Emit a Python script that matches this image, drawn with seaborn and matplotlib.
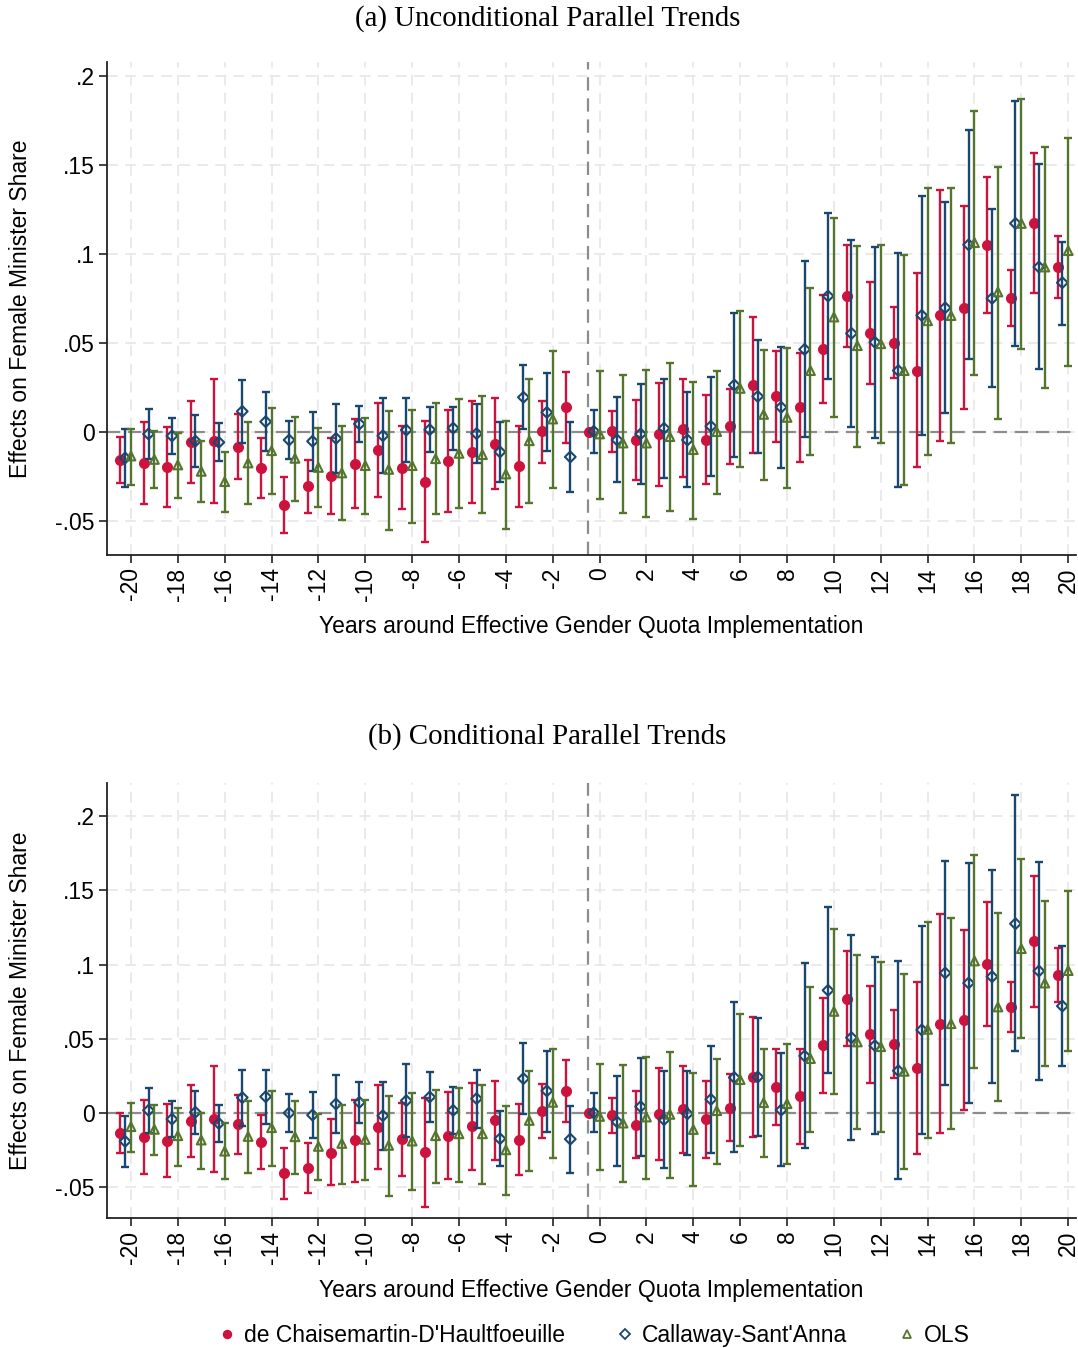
import numpy as np
import matplotlib
matplotlib.use("Agg")
import matplotlib.pyplot as plt
import seaborn as sns
from matplotlib.lines import Line2D

years = list(range(-20, 21))
nan = np.nan

# ---- (a) unconditional parallel trends ----
a_dcdh_est = [-0.0157, -0.0176, -0.0199, -0.0054, -0.0049, -0.0082, -0.0200, -0.0412, -0.0305, -0.0245,
              -0.0178, -0.0103, -0.0200, -0.0279, -0.0161, -0.0110, -0.0066, -0.0193, 0.0004, 0.0139,
              0.0, 0.0004, -0.0047, -0.0011, 0.0019, -0.0043, 0.0032, 0.0266, 0.0200, 0.0139,
              0.0466, 0.0764, 0.0554, 0.0502, 0.0345, 0.0655, 0.0698, 0.1052, 0.0753, 0.1172, 0.0927]
a_dcdh_lo = [-0.0288, -0.0406, -0.0423, -0.0285, -0.0399, -0.0266, -0.0369, -0.0569, -0.0455, -0.0459,
             -0.0427, -0.0367, -0.0433, -0.0620, -0.0448, -0.0400, -0.0318, -0.0419, -0.0172, -0.0062,
             0.0, -0.0114, -0.0272, -0.0301, -0.0255, -0.0290, -0.0180, -0.0116, -0.0056, -0.0169,
             0.0163, 0.0479, 0.0268, 0.0303, -0.0197, -0.0049, 0.0127, 0.0670, 0.0596, 0.0779, 0.0755]
a_dcdh_hi = [-0.0030, 0.0056, 0.0026, 0.0176, 0.0298, 0.0103, -0.0032, -0.0253, -0.0155, -0.0036,
             0.0071, 0.0165, 0.0032, 0.0064, 0.0125, 0.0176, 0.0189, 0.0036, 0.0176, 0.0339,
             0.0, 0.0120, 0.0182, 0.0277, 0.0296, 0.0206, 0.0243, 0.0646, 0.0457, 0.0446,
             0.0770, 0.1052, 0.0845, 0.0700, 0.0891, 0.1361, 0.1270, 0.1434, 0.0912, 0.1566, 0.1101]

a_cs_est = [-0.0146, -0.0011, -0.0022, -0.0051, -0.0058, 0.0116, 0.0058, -0.0045, -0.0052, -0.0036,
            0.0045, -0.0021, 0.0011, 0.0013, 0.0022, -0.0009, -0.0112, 0.0195, 0.0110, -0.0140,
            0.0004, -0.0045, -0.0011, 0.0021, -0.0045, 0.0032, 0.0264, 0.0200, 0.0139, 0.0464,
            0.0764, 0.0554, 0.0504, 0.0345, 0.0655, 0.0698, 0.1052, 0.0751, 0.1172, 0.0927, 0.0839]
a_cs_lo = [-0.0310, -0.0150, -0.0124, -0.0195, -0.0165, -0.0060, -0.0105, -0.0154, -0.0217, -0.0230,
           -0.0058, -0.0230, -0.0170, -0.0110, -0.0101, -0.0174, -0.0279, 0.0015, -0.0109, -0.0335,
           -0.0118, -0.0283, -0.0294, -0.0260, -0.0311, -0.0247, -0.0139, -0.0120, -0.0204, -0.0026,
           0.0300, 0.0030, -0.0036, -0.0310, -0.0015, 0.0107, 0.0408, 0.0255, 0.0483, 0.0352, 0.0603]
a_cs_hi = [0.0015, 0.0129, 0.0080, 0.0094, 0.0049, 0.0294, 0.0223, 0.0062, 0.0114, 0.0159,
           0.0144, 0.0191, 0.0193, 0.0139, 0.0142, 0.0155, 0.0054, 0.0376, 0.0333, 0.0054,
           0.0122, 0.0195, 0.0270, 0.0300, 0.0223, 0.0311, 0.0670, 0.0519, 0.0479, 0.0959,
           0.1228, 0.1079, 0.1037, 0.1006, 0.1324, 0.1290, 0.1695, 0.1255, 0.1861, 0.1504, 0.1066]

a_ols_est = [-0.0135, -0.0154, -0.0185, -0.0221, -0.0279, -0.0174, -0.0105, -0.0148, -0.0199, -0.0230,
             -0.0189, -0.0210, -0.0189, -0.0150, -0.0120, -0.0127, -0.0236, -0.0049, 0.0073, nan,
             -0.0011, -0.0062, -0.0062, -0.0026, -0.0099, 0.0002, 0.0245, 0.0099, 0.0082, 0.0345,
             0.0646, 0.0485, 0.0496, 0.0345, 0.0625, 0.0654, 0.1064, 0.0787, 0.1172, 0.0927, 0.1019]
a_ols_lo = [-0.0300, -0.0315, -0.0369, -0.0391, -0.0451, -0.0403, -0.0350, -0.0386, -0.0423, -0.0494,
            -0.0461, -0.0549, -0.0513, -0.0463, -0.0429, -0.0457, -0.0545, -0.0400, -0.0315, nan,
            -0.0375, -0.0455, -0.0478, -0.0446, -0.0489, -0.0350, -0.0199, -0.0270, -0.0316, -0.0129,
            0.0082, -0.0086, -0.0060, -0.0300, -0.0131, -0.0064, 0.0320, 0.0073, 0.0464, 0.0245, 0.0373]
a_ols_hi = [0.0015, 0.0006, -0.0004, -0.0052, -0.0110, 0.0054, 0.0133, 0.0086, 0.0022, 0.0034,
            0.0080, 0.0120, 0.0125, 0.0161, 0.0185, 0.0200, 0.0064, 0.0300, 0.0453, nan,
            0.0341, 0.0322, 0.0348, 0.0386, 0.0279, 0.0345, 0.0678, 0.0459, 0.0474, 0.0811,
            0.1202, 0.1045, 0.1049, 0.0995, 0.1373, 0.1369, 0.1805, 0.1487, 0.1869, 0.1599, 0.1654]

# ---- (b) conditional parallel trends ----
b_dcdh_est = [-0.0135, -0.0164, -0.0187, -0.0054, -0.0038, -0.0077, -0.0196, -0.0405, -0.0372, -0.0268,
              -0.0182, -0.0095, -0.0178, -0.0264, -0.0153, -0.0088, -0.0050, -0.0180, 0.0014, 0.0149,
              0.0, -0.0016, -0.0079, -0.0007, 0.0025, -0.0043, 0.0036, 0.0243, 0.0176, 0.0113,
              0.0456, 0.0771, 0.0530, 0.0463, 0.0303, 0.0602, 0.0629, 0.1004, 0.0712, 0.1157, 0.0928]
b_dcdh_lo = [-0.0268, -0.0412, -0.0432, -0.0297, -0.0396, -0.0279, -0.0378, -0.0579, -0.0538, -0.0486,
             -0.0462, -0.0378, -0.0426, -0.0631, -0.0448, -0.0387, -0.0318, -0.0421, -0.0171, -0.0059,
             0.0, -0.0133, -0.0306, -0.0315, -0.0268, -0.0300, -0.0190, -0.0162, -0.0081, -0.0207,
             0.0137, 0.0449, 0.0204, 0.0236, -0.0274, -0.0135, 0.0018, 0.0584, 0.0546, 0.0717, 0.0746]
b_dcdh_hi = [-0.0002, 0.0090, 0.0061, 0.0187, 0.0318, 0.0124, -0.0014, -0.0236, -0.0205, -0.0041,
             0.0090, 0.0187, 0.0068, 0.0099, 0.0140, 0.0205, 0.0216, 0.0063, 0.0198, 0.0356,
             0.0, 0.0104, 0.0151, 0.0302, 0.0315, 0.0216, 0.0260, 0.0648, 0.0432, 0.0432,
             0.0778, 0.1094, 0.0858, 0.0694, 0.0881, 0.1344, 0.1236, 0.1420, 0.0883, 0.1598, 0.1112]

b_cs_est = [-0.0191, 0.0018, -0.0041, 0.0005, -0.0070, 0.0104, 0.0110, 0.0000, -0.0014, 0.0061,
            0.0072, -0.0018, 0.0083, 0.0108, 0.0018, 0.0097, -0.0173, 0.0232, 0.0149, -0.0176,
            0.0002, -0.0060, 0.0043, -0.0045, -0.0005, 0.0092, 0.0239, 0.0243, 0.0020, 0.0385,
            0.0827, 0.0508, 0.0454, 0.0285, 0.0560, 0.0944, 0.0876, 0.0919, 0.1276, 0.0957, 0.0721]
b_cs_lo = [-0.0367, -0.0135, -0.0162, -0.0142, -0.0194, -0.0090, -0.0074, -0.0128, -0.0167, -0.0133,
           -0.0065, -0.0248, -0.0162, -0.0061, -0.0144, -0.0099, -0.0358, -0.0009, -0.0131, -0.0403,
           -0.0128, -0.0360, -0.0290, -0.0374, -0.0286, -0.0270, -0.0263, -0.0155, -0.0358, -0.0239,
           0.0270, -0.0184, -0.0142, -0.0447, -0.0142, 0.0189, 0.0067, 0.0200, 0.0416, 0.0222, 0.0317]
b_cs_hi = [-0.0020, 0.0167, 0.0079, 0.0149, 0.0052, 0.0293, 0.0293, 0.0128, 0.0140, 0.0257,
           0.0209, 0.0212, 0.0329, 0.0275, 0.0178, 0.0293, 0.0011, 0.0471, 0.0421, 0.0050,
           0.0135, 0.0250, 0.0371, 0.0281, 0.0281, 0.0452, 0.0748, 0.0640, 0.0405, 0.1009,
           0.1387, 0.1202, 0.1052, 0.1025, 0.1263, 0.1701, 0.1683, 0.1636, 0.2142, 0.1694, 0.1126]

b_ols_est = [-0.0092, -0.0110, -0.0153, -0.0182, -0.0257, -0.0158, -0.0099, -0.0160, -0.0225, -0.0205,
             -0.0178, -0.0218, -0.0189, -0.0153, -0.0140, -0.0140, -0.0248, -0.0050, 0.0072, nan,
             -0.0023, -0.0068, -0.0027, -0.0009, -0.0111, 0.0016, 0.0225, 0.0070, 0.0063, 0.0367,
             0.0685, 0.0479, 0.0447, 0.0281, 0.0564, 0.0602, 0.1025, 0.0715, 0.1108, 0.0876, 0.0960]
b_ols_lo = [-0.0266, -0.0284, -0.0354, -0.0376, -0.0448, -0.0405, -0.0358, -0.0412, -0.0453, -0.0477,
            -0.0453, -0.0559, -0.0520, -0.0473, -0.0462, -0.0480, -0.0554, -0.0392, -0.0304, nan,
            -0.0385, -0.0466, -0.0448, -0.0439, -0.0493, -0.0345, -0.0223, -0.0297, -0.0345, -0.0126,
            0.0126, -0.0108, -0.0128, -0.0380, -0.0169, -0.0110, 0.0303, 0.0079, 0.0506, 0.0317, 0.0416]
b_ols_hi = [0.0065, 0.0054, 0.0036, 0.0000, -0.0070, 0.0081, 0.0149, 0.0079, -0.0007, 0.0056,
            0.0086, 0.0113, 0.0135, 0.0153, 0.0169, 0.0189, 0.0047, 0.0284, 0.0430, nan,
            0.0331, 0.0324, 0.0380, 0.0408, 0.0268, 0.0367, 0.0667, 0.0432, 0.0466, 0.0847,
            0.1240, 0.1063, 0.1016, 0.0937, 0.1290, 0.1317, 0.1739, 0.1348, 0.1715, 0.1429, 0.1499]

methods = ["de Chaisemartin-D'Haultfoeuille", "Callaway-Sant'Anna", "OLS"]
colors = ["#ce123e", "#1a476f", "#55752f"]
markers = ["o", "D", "^"]
offsets = [-0.45, -0.25, 0.0]
hollow = [False, True, True]
sizes = [42, 30, 40]

ytick_vals = [-0.05, 0, 0.05, 0.1, 0.15, 0.2]
ytick_labs = ["-.05", "0", ".05", ".1", ".15", ".2"]

sns.set_theme(style="white")
plt.rcParams["font.family"] = ["Liberation Sans", "DejaVu Sans"]
plt.rcParams["text.color"] = "black"
plt.rcParams["axes.labelcolor"] = "black"
plt.rcParams["xtick.color"] = "black"
plt.rcParams["ytick.color"] = "black"

fig = plt.figure(figsize=(10.78, 13.48), dpi=100)
ax_a = fig.add_axes([0.0993, 0.5883, 0.899, 0.3657])
ax_b = fig.add_axes([0.0993, 0.0964, 0.899, 0.3227])


def draw_panel(ax, series, ylim, xlab_y):
    ax.set_axisbelow(True)
    ax.grid(True, color="#e8e8e8", lw=1.3, ls=(0, (6, 4)))
    ax.axhline(0, color="#8c8c8c", lw=1.6, ls=(0, (6, 3.5)), zorder=1.5)
    ax.axvline(-0.5, color="#8c8c8c", lw=1.6, ls=(0, (6, 3.5)), zorder=1.5)
    for i, (est, lo, hi) in enumerate(series):
        x = np.array(years) + offsets[i]
        est = np.array(est, float)
        lo = np.array(lo, float)
        hi = np.array(hi, float)
        ax.errorbar(x, est, yerr=[est - lo, hi - est], fmt="none", ecolor=colors[i],
                    elinewidth=1.7, capsize=2.8, capthick=1.7, zorder=3 + i)
        sns.scatterplot(x=x, y=est, ax=ax, marker=markers[i], s=sizes[i], color=colors[i],
                        edgecolor=colors[i], linewidth=1.5, zorder=3.5 + i)
        if hollow[i]:
            ax.collections[-1].set_facecolor("none")
    ax.set_xlim(-21.02, 20.34)
    ax.set_ylim(*ylim)
    ax.set_xticks(range(-20, 21, 2))
    ax.set_xticklabels([str(v) for v in range(-20, 21, 2)], rotation=90)
    ax.set_yticks(ytick_vals)
    ax.set_yticklabels(ytick_labs)
    sns.despine(ax=ax)
    for s in ["left", "bottom"]:
        ax.spines[s].set_color("#222222")
        ax.spines[s].set_linewidth(1.3)
    ax.tick_params(axis="both", bottom=True, left=True, direction="out", length=6,
                   width=1.2, color="#222222", labelcolor="black", labelsize=16.5, pad=3)
    ax.set_xlabel("Years around Effective Gender Quota Implementation", fontsize=16.5)
    ax.set_ylabel("Effects on Female Minister Share", fontsize=16.5)
    ax.xaxis.set_label_coords(0.5, xlab_y)
    ax.xaxis.label.set_va("center")
    ax.yaxis.set_label_coords(-0.0898, 0.5)
    ax.yaxis.label.set_va("center")


draw_panel(ax_a, [(a_dcdh_est, a_dcdh_lo, a_dcdh_hi),
                  (a_cs_est, a_cs_lo, a_cs_hi),
                  (a_ols_est, a_ols_lo, a_ols_hi)], (-0.0691, 0.2079), -0.146)
draw_panel(ax_b, [(b_dcdh_est, b_dcdh_lo, b_dcdh_hi),
                  (b_cs_est, b_cs_lo, b_cs_hi),
                  (b_ols_est, b_ols_lo, b_ols_hi)], (-0.0708, 0.2224), -0.1655)

fig.text(0.508, 0.9866, "(a) Unconditional Parallel Trends", family="Liberation Serif",
         fontsize=20.8, ha="center", va="center")
fig.text(0.508, 0.4533, "(b) Conditional Parallel Trends", family="Liberation Serif",
         fontsize=20.8, ha="center", va="center")

handles = []
for i in range(3):
    handles.append(Line2D([], [], ls="none", marker=markers[i], color=colors[i],
                          markerfacecolor="none" if hollow[i] else colors[i],
                          markersize=5.5, markeredgewidth=1.3))
fig.legend(handles, methods, loc="center", bbox_to_anchor=(0.551, 0.0096), ncol=3,
           frameon=False, fontsize=16.5, handlelength=0.8, handletextpad=0.35,
           columnspacing=2.2, borderpad=0)

fig.savefig("out.png", dpi=100)
